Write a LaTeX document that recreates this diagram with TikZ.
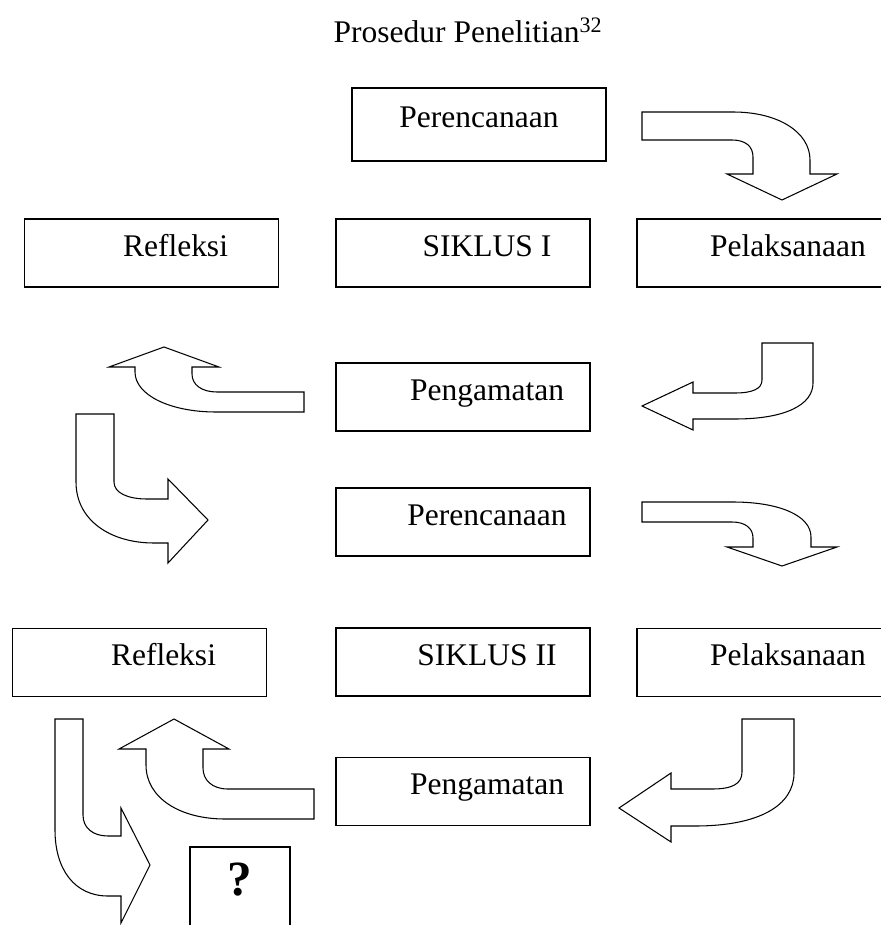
\documentclass[tikz,border=0pt]{standalone}
\usepackage{fontspec}
\setmainfont{Liberation Serif}
\usepackage{tikz}

\begin{document}
\begin{tikzpicture}[
    x=0.025cm, y=-0.025cm,
    stage/.style={
      rectangle, draw=black, line width=1.05pt, inner sep=0pt,
      minimum width=6.35cm, minimum height=1.7cm,
      text height=0.68em, text depth=0.25em,
      font=\fontsize{22.4}{27}\selectfont
    },
    turn/.style={draw=black, fill=white, line width=0.75pt, line join=miter},
  ]
  \useasboundingbox (0,0) rectangle (880,925);

  \node[anchor=base, font=\fontsize{22.4}{27}\selectfont] (title) at (468,43)
    {Prosedur Penelitian\textsuperscript{32}};

  % siklus I
  \node[stage, minimum height=1.825cm] (plan1) at (479,124.5) {Perencanaan};
  \node[stage] (refl1) at (151.5,253) {\hspace{1.2cm}Refleksi};
  \node[stage] (cycle1) at (463,253) {\hspace{1.2cm}SIKLUS I};
  \node[stage] (act1) at (764,253) {\hspace{1.2cm}Pelaksanaan};
  \node[stage] (obs1) at (463,397) {\hspace{1.2cm}Pengamatan};

  % siklus II
  \node[stage] (plan2) at (463,522) {\hspace{1.2cm}Perencanaan};
  \node[stage] (refl2) at (139.5,662.5) {\hspace{1.2cm}Refleksi};
  \node[stage] (cycle2) at (463,662) {\hspace{1.2cm}SIKLUS II};
  \node[stage] (act2) at (764,662.5) {\hspace{1.2cm}Pelaksanaan};
  \node[stage] (obs2) at (463,791.5) {\hspace{1.2cm}Pengamatan};
  \node[stage, minimum width=2.5cm, minimum height=2.2cm, text depth=0pt,
        font=\fontsize{35}{40}\selectfont\bfseries] (next) at (240,891) {?};

  % perencanaan -> pelaksanaan
  \draw[turn] (642,112) -- (733,112) .. controls (778,112) and (810,132) .. (810,160)
    -- (810,174) -- (837,174) -- (782,200) -- (727,174) -- (753,174) -- (753,157)
    .. controls (753,146) and (745,140) .. (732,140) -- (642,140) -- cycle;
  \draw[turn] (642,502) -- (733,502) .. controls (778,502) and (811,515) .. (811,537)
    -- (811,547) -- (837,547) -- (782,566) -- (727,547) -- (753,547) -- (753,538)
    .. controls (753,528) and (745,522) .. (732,522) -- (642,522) -- cycle;

  % pelaksanaan -> pengamatan
  \draw[turn] (762,343) -- (813,343) -- (813,383) .. controls (813,405) and (785,419) .. (735,419)
    -- (693,419) -- (693,430) -- (642,406) -- (693,382) -- (693,393) -- (735,393)
    .. controls (752,393) and (762,389) .. (762,380) -- cycle;
  \draw[turn] (742,719) -- (794,719) -- (794,773) .. controls (794,805) and (760,826) .. (695,826)
    -- (671,826) -- (671,842) -- (619,808) -- (671,773) -- (671,789) -- (712,789)
    .. controls (732,789) and (742,784) .. (742,772) -- cycle;

  % pengamatan -> refleksi
  \draw[turn] (304,392) -- (217,392) .. controls (202,392) and (192,385) .. (192,374)
    -- (192,367) -- (219,367) -- (164,347) -- (109,367) -- (135,367) -- (135,372)
    .. controls (135,395) and (170,412) .. (216,412) -- (304,412) -- cycle;
  \draw[turn] (314,789) -- (228,789) .. controls (212,789) and (203,780) .. (203,768)
    -- (203,749) -- (229,749) -- (174,719) -- (119,749) -- (146,749) -- (146,765)
    .. controls (146,798) and (180,819) .. (225,819) -- (314,819) -- cycle;

  % refleksi -> siklus berikutnya
  \draw[turn] (76,414) -- (114,414) -- (114,482) .. controls (114,493) and (128,499) .. (147,499)
    -- (168,499) -- (168,479) -- (208,520) -- (168,563) -- (168,543) -- (154,543)
    .. controls (110,543) and (76,520) .. (76,482) -- cycle;
  \draw[turn] (55,719) -- (83,719) -- (83,815) .. controls (83,828) and (93,836) .. (108,836)
    -- (121,836) -- (121,808) -- (150,865) -- (121,923) -- (121,896) -- (108,896)
    .. controls (75,896) and (55,870) .. (55,830) -- cycle;
\end{tikzpicture}
\end{document}
